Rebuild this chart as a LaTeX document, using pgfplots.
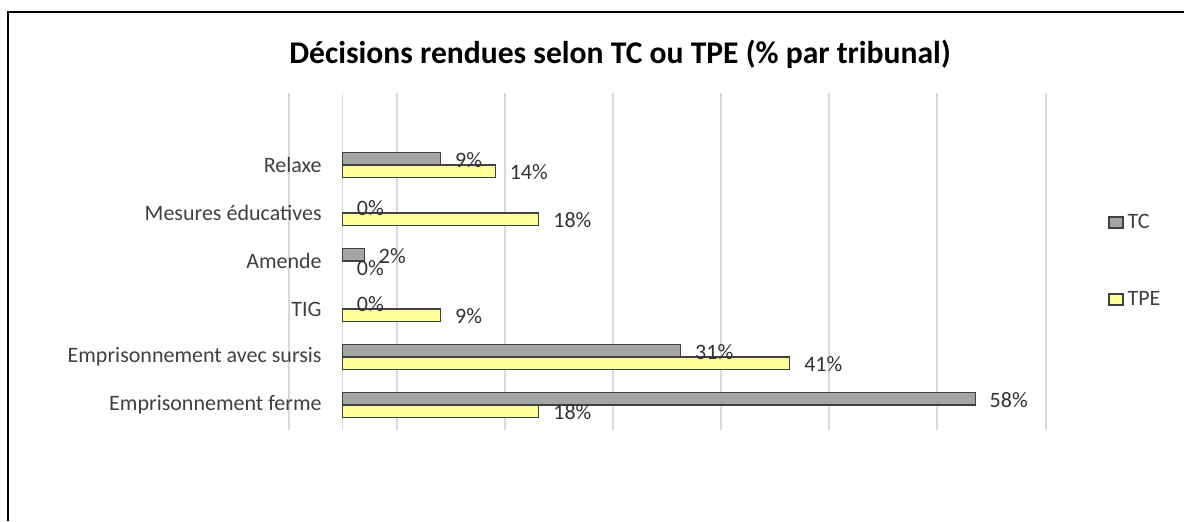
\documentclass[border=0pt]{standalone}
\usepackage{pgfplots}
\pgfplotsset{compat=1.18}
\usepackage{fontspec}
\setmainfont{Carlito}
\definecolor{tcfill}{HTML}{A5A5A5}
\definecolor{tpefill}{HTML}{FFFF99}
\definecolor{barline}{HTML}{404040}
\definecolor{gridgray}{HTML}{D9D9D9}
\definecolor{labelgray}{HTML}{404040}
\pgfplotsset{sq legend/.style={legend image code/.code={\draw[##1, line width=0.6pt] (0pt,-2.75pt) rectangle (7pt,2.75pt);}}}

\begin{document}
\begin{tikzpicture}[x=1pt,y=1pt]
\useasboundingbox (0,0) rectangle (592,260.5);
\draw[line width=1pt] (4,0) -- (4,254.5) -- (592,254.5);
\node[font=\fontsize{15.8}{18}\selectfont\bfseries] at (310,233.5) {Décisions rendues selon TC ou TPE (\% par tribunal)};
\begin{axis}[
  at={(144.5pt,45.5pt)}, anchor=south west,
  scale only axis, width=378.5pt, height=168.5pt,
  xmin=-4.9, xmax=64.5, ymin=-0.52, ymax=6.5,
  xbar, bar width=6.35pt,
  axis line style={draw=none},
  xtick={-4.9,0,5,14.9,24.8,34.7,44.6,54.5,64.5}, xticklabels={},
  xmajorgrids, major grid style={gridgray, line width=0.6pt},
  ytick={0,...,5},
  yticklabels={Emprisonnement ferme, Emprisonnement avec sursis, TIG, Amende, Mesures éducatives, Relaxe},
  major tick length=0pt,
  y tick label style={font=\fontsize{11}{13}\selectfont, text=labelgray, inner sep=0pt, xshift=16.5pt},
  point meta=x,
  /pgf/number format/assume math mode=true,
  nodes near coords={\pgfmathprintnumber{\pgfplotspointmeta}\%},
  every node near coord/.append style={font=\fontsize{11}{13}\selectfont, text=black!80, anchor=west, inner sep=0pt, xshift=7pt, yshift=-0.5pt},
  legend style={at={(1.0819,0.5015)}, anchor=west, draw=none, fill=none, inner sep=0pt,
    font=\fontsize{11}{13}\selectfont, text=labelgray, row sep=29.9pt, nodes={inner sep=0pt}},
  legend cell align=left,
]
\addplot[fill=tcfill, draw=barline, line width=0.6pt, bar shift=3.175pt, sq legend] coordinates {(9,5) (2,3) (31,1) (58,0)};
\addlegendentry{\hspace*{2pt}TC}
\addplot[fill=tpefill, draw=barline, line width=0.6pt, bar shift=-3.175pt, sq legend] coordinates {(14,5) (18,4) (9,2) (41,1) (18,0)};
\addlegendentry{\hspace*{2pt}TPE}
\addplot[draw=none, fill=none, bar shift=3.175pt, forget plot] coordinates {(0,4) (0,2)};
\addplot[draw=none, fill=none, bar shift=-3.175pt, forget plot] coordinates {(0,3)};
\end{axis}
\end{tikzpicture}
\end{document}
